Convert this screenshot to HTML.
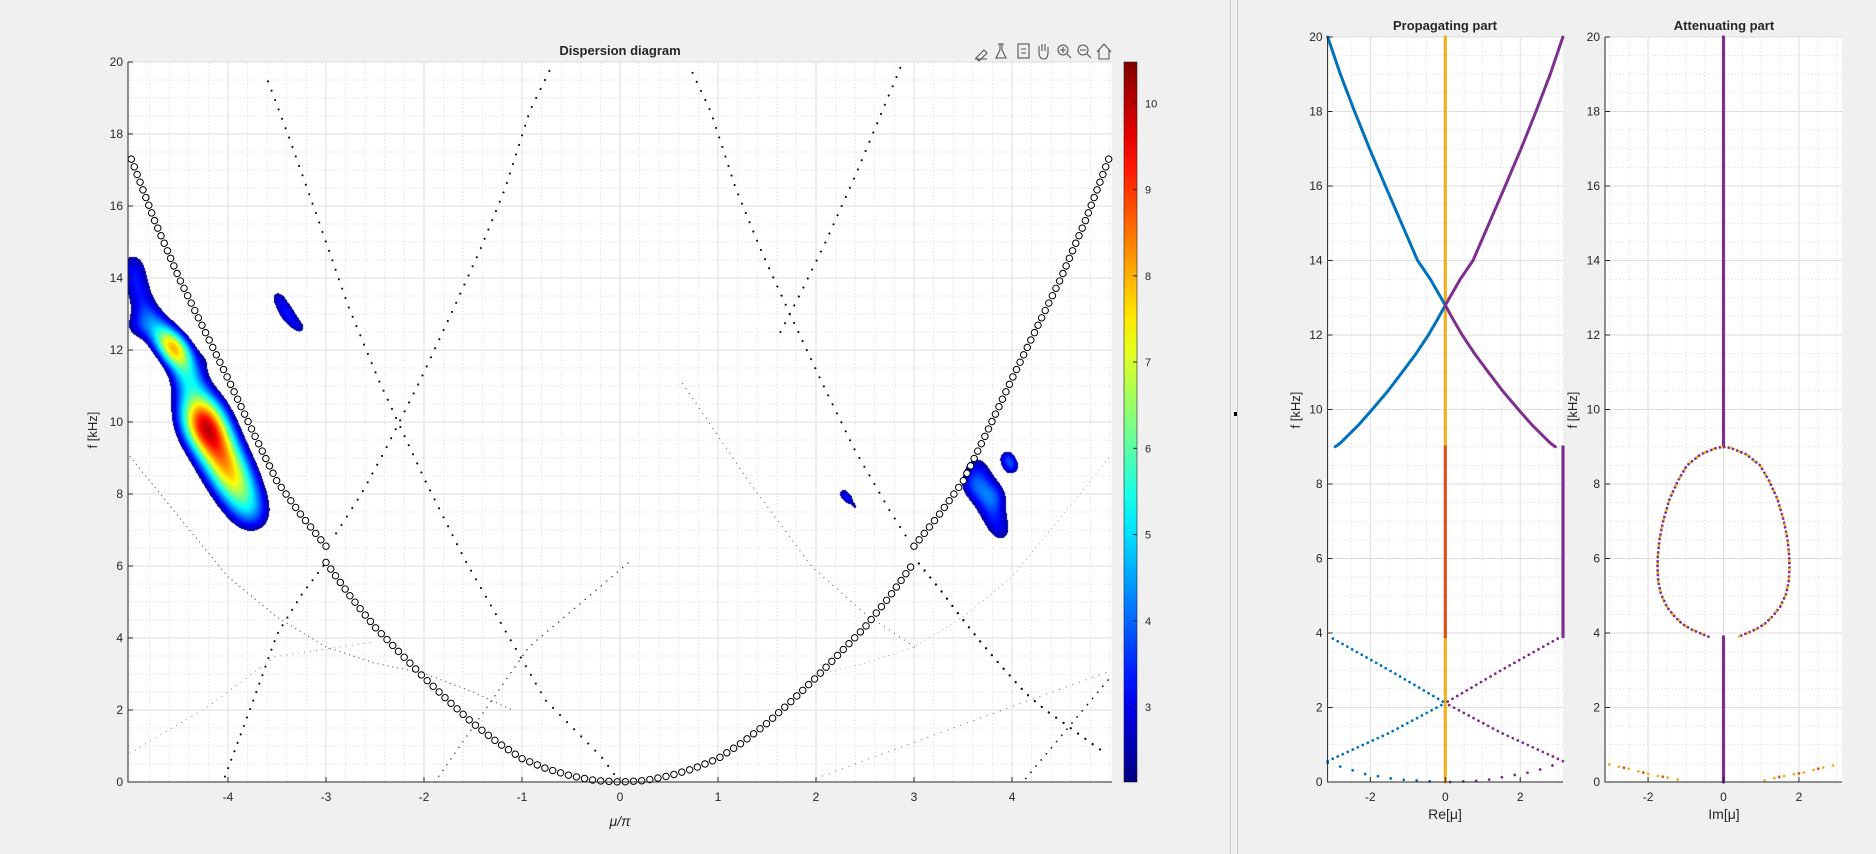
<!DOCTYPE html>
<html><head><meta charset="utf-8"><title>Dispersion diagram</title>
<style>
html,body{margin:0;padding:0;background:#f0f0f0;}
#wrap{position:relative;width:1876px;height:854px;overflow:hidden;font-family:"Liberation Sans",Arial,sans-serif;}
svg,canvas{position:absolute;left:0;top:0;}
text{font-family:"Liberation Sans",Arial,sans-serif;fill:#262626;}
</style></head>
<body>
<div id="wrap">
<svg id="base" width="1876" height="854"></svg>
<canvas id="heat" width="984" height="720" style="left:128px;top:62px;"></canvas>
<svg id="top" width="1876" height="854"></svg>
</div>
<script>
// ---------- main dispersion diagram data ----------
const fundMu=[0,0.25,0.5,0.75,1,1.25,1.5,1.75,2,2.25,2.5,2.75,3];
const fundF=[0,0.04,0.17,0.37,0.65,1.1,1.63,2.25,2.9,3.6,4.3,5.15,6.1];
const upperMu=[3,3.25,3.5,3.75,4,4.25,4.5,4.75,5];
const upperF=[6.55,7.4,8.35,9.75,11.2,12.6,14.0,15.6,17.4];
const steepLeftMu=[0,-0.19,-0.76,-1.17,-1.58,-1.99,-2.46,-2.77,-3.09,-3.39,-3.61];
const steepLeftF=[0,0.7,2.27,4.2,6.16,8.38,11.15,13.2,15.7,18.0,19.6];
const innerLeftMu=[-0.72,-0.92,-1.17,-1.43,-1.69,-2.04,-2.4,-2.64,-2.91];
const innerLeftF=[19.75,18.64,16.5,14.76,13.2,11.15,9.2,8.0,6.85];
const innerRightMu=[0.74,0.93,1.18,1.44,1.7,2.06,2.4,2.76,2.96];
const innerRightF=[19.7,18.6,16.5,14.76,13.2,11.1,9.2,7.5,6.65];
const outerRightMu=[2.86,2.41,2.09,1.84,1.6];
const outerRightF=[19.84,16.9,14.95,13.56,12.3];
const lowRightMu=[3.05,3.27,3.48,3.68,3.88,4.14,4.34,4.53,4.95];
const lowRightF=[6.07,5.33,4.57,3.89,3.25,2.46,2.0,1.63,0.8];
const midRightMu=[0.64,1.3,1.96,2.5,3.01];
const midRightF=[11.07,8.4,5.97,4.68,3.74];
const lowLeftMu=[-4.03,-3.75,-3.5,-3.25,-3.0];
const lowLeftF=[0.15,2.2,4.1,5.2,6.1];
const farLeftMu=[-5,-4.5,-4,-3.5,-3,-2.5,-2,-1.5,-1.1];
const farLeftF=[9.04,7.36,5.7,4.58,3.75,3.3,3.02,2.5,2.0];
const riseAMu=[-1.89,-0.93,0.09];
const riseAF=[0,3.75,6.1];
const riseBMu=[2.0,3.5,5.02];
const riseBF=[0.1,1.6,3.1];
const riseCMu=[4.14,5.0];
const riseCF=[0.1,2.9];
const riseDMu=[-5,-4.2,-3.52,-2.5];
const riseDF=[0.8,2.1,3.48,3.9];
const farRightMu=[2.05,2.5,3.0,3.5,4.0,4.5,5.0];
const farRightF=[3.0,3.3,3.75,4.58,5.7,7.36,9.04];
// heatmap blobs (summed gaussian components): [mu, f, amplitude, sigma(px)]
const blobLeftUpper=[[-4.98,14.5,1.9,13],[-4.95,14.0,1.9,13],[-4.9,13.5,1.9,13],[-4.82,13.0,2.0,13],[-4.72,12.6,2.4,13],
 [-4.62,12.25,4.0,12],[-4.52,11.95,4.1,12],[-4.45,11.6,2.4,13],[-4.4,11.2,2.2,14],[-4.12,11.9,1.8,10],[-4.98,12.6,1.6,12]];
const blobLeftMain=[[-4.35,10.7,2.03,18],[-4.3,10.3,2.66,18],
 [-4.25,10.0,3.22,18],[-4.2,9.7,3.12,18],[-4.13,9.35,2.81,18],[-4.06,9.0,2.66,18],[-4.0,8.65,2.56,18],[-3.93,8.3,2.44,18],
 [-3.86,7.95,2.03,18],[-3.8,7.6,1.56,18],[-3.73,7.3,1.6,16]];
const blobSmallA=[[-3.5,13.5,2.2,8],[-3.43,13.15,2.2,8],[-3.36,12.85,2.2,8],[-3.26,12.6,2.0,7]];
const blobSmallB=[[2.27,8.05,2.3,6],[2.33,7.85,2.3,5],[2.4,7.65,2.0,4]];
const blobRightMain=[[3.62,8.9,1.6,14],[3.66,8.45,1.6,14],[3.72,8.0,1.6,14],[3.78,7.6,1.6,14],[3.84,7.2,1.6,13],[3.9,6.85,1.4,11],[3.55,8.2,1.1,11],[3.85,8.0,1.1,11]];
const blobRightSmall=[[3.95,9.05,2.6,7],[4.0,8.75,2.6,7]];
const cbTicks=[3,4,5,6,7,8,9,10];
const cbMin=2.13, cbMax=10.48;
const mainXTicks=[-4,-3,-2,-1,0,1,2,3,4];
const mainYTicks=[0,2,4,6,8,10,12,14,16,18,20];
// ---------- right panel data ----------
const blueUpX=[-3.14,-2.8,-2.42,-2.02,-1.6,-1.17,-0.74,-0.4,0], blueUpF=[20,19,18,17,16,15,14,13.5,12.8];
const blueMidX=[0,-0.22,-0.45,-0.78,-1.15,-1.53,-1.95,-2.3,-2.6,-2.8,-2.94], blueMidF=[12.8,12.4,12,11.5,11,10.5,10,9.6,9.3,9.1,9.0];
const purpUpX=[3.14,2.8,2.42,2.02,1.6,1.17,0.74,0.4,0], purpUpF=[20,19,18,17,16,15,14,13.5,12.8];
const purpMidX=[0,0.22,0.45,0.78,1.15,1.53,1.95,2.3,2.6,2.8,2.94], purpMidF=[12.8,12.4,12,11.5,11,10.5,10,9.6,9.3,9.1,9.0];
const blueLowAX=[-3.0,-1.49,0], blueLowAF=[3.85,3.0,2.12];
const blueLowBX=[-3.14,-1.49,0], blueLowBF=[0.56,1.32,2.12];
const purpLowAX=[3.0,1.49,0], purpLowAF=[3.85,3.0,2.12];
const purpLowBX=[3.14,1.49,0], purpLowBF=[0.56,1.32,2.12];
const blueFloorX=[-3.14,-2.65,-2.18,-1.84,-1.49,-1.09,-0.16], blueFloorF=[0.51,0.37,0.22,0.16,0.1,0.06,0];
const purpFloorX=[0.13,1.05,1.51,1.86,2.2,2.67,3.14], purpFloorF=[0,0.04,0.13,0.19,0.25,0.37,0.55];
const loopX=[-0.4,-0.86,-1.1,-1.31,-1.5,-1.66,-1.73,-1.75,-1.74,-1.7,-1.6,-1.43,-1.2,-0.97,-0.6,-0.19,0,
             0.19,0.6,0.97,1.2,1.43,1.6,1.7,1.74,1.75,1.73,1.66,1.5,1.31,1.1,0.86,0.4];
const loopF=[3.9,4.1,4.25,4.46,4.7,5.05,5.4,5.78,6.1,6.5,7.0,7.6,8.1,8.5,8.8,8.97,9.0,
             8.97,8.8,8.5,8.1,7.6,7.0,6.5,6.1,5.78,5.4,5.05,4.7,4.46,4.25,4.1,3.9];
const attLeftX=[-3.03,-2.46,-1.89,-1.49,-1.09], attLeftF=[0.47,0.34,0.19,0.12,0.04];
const attRightX=[1.09,1.54,2.11,2.57,3.03], attRightF=[0.04,0.15,0.25,0.37,0.47];
const sideTicksX=[-2,0,2];

const NS="http://www.w3.org/2000/svg";
const base=document.getElementById('base'), topS=document.getElementById('top');
function mk(parent,tag,attrs,txt){const e=document.createElementNS(NS,tag);for(const k in attrs)e.setAttribute(k,attrs[k]);if(txt!==undefined)e.textContent=txt;parent.appendChild(e);return e;}

const M={l:128,r:1112,t:62,b:782,x0:-5.02,x1:5.02};
const P1={l:1327.6,r:1563,t:37,b:782,x0:-Math.PI,x1:Math.PI};
const P2={l:1605,r:1842,t:37,b:782,x0:-Math.PI,x1:Math.PI};
function sx(A,v){return A.l+(v-A.x0)/(A.x1-A.x0)*(A.r-A.l);}
function sy(A,f){return A.b-f/20*(A.b-A.t);}

let r=mk(base,'rect',{x:0,y:0,width:1876,height:854,fill:'#f0f0f0'});

let d1=mk(base,'line',{x1:1230.5,y1:0,x2:1230.5,y2:854,stroke:'#c8c8c8'});

let d2=mk(base,'line',{x1:1237.5,y1:0,x2:1237.5,y2:854,stroke:'#c8c8c8'});


function grid(A,name,xMajor,xMinorStep,yMinorStep){
  const g=mk(base,'g',{});
  
  const bg=mk(g,'rect',{x:A.l,y:A.t,width:A.r-A.l,height:A.b-A.t,fill:'#fff'});
  
  const sx0=Math.ceil(A.x0/xMinorStep);
  for(let i=sx0;i*xMinorStep<=A.x1;i++){const v=i*xMinorStep;const X=sx(A,v);
    const isMaj=xMajor.some(m=>Math.abs(m-v)<1e-6);
    mk(g,'line',{x1:X,y1:A.t,x2:X,y2:A.b,stroke:isMaj?'#dedede':'#e3e3e3','stroke-dasharray':isMaj?'':'1.5 2'});}
  for(let i=0;i*yMinorStep<=20+1e-6;i++){const v=i*yMinorStep;const Y=sy(A,v);
    const isMaj=Math.abs(v/2-Math.round(v/2))<1e-6;
    mk(g,'line',{x1:A.l,y1:Y,x2:A.r,y2:Y,stroke:isMaj?'#dedede':'#e3e3e3','stroke-dasharray':isMaj?'':'1.5 2'});}
}
grid(M,'main',mainXTicks,0.2,0.5);
grid(P1,'propagating',sideTicksX,0.5,0.5);
grid(P2,'attenuating',sideTicksX,0.5,0.5);

function jet(t){t=Math.max(0,Math.min(1,t));
  const r=Math.max(0,Math.min(1,1.5-Math.abs(4*t-3))),g=Math.max(0,Math.min(1,1.5-Math.abs(4*t-2))),b=Math.max(0,Math.min(1,1.5-Math.abs(4*t-1)));
  return [r*255,g*255,b*255];}
(function(){
  const cv=document.getElementById('heat'),ctx=cv.getContext('2d');
  const W=984,H=720,field=new Float32Array(W*H);
  const all=[].concat(blobLeftUpper,blobLeftMain,blobSmallA,blobSmallB,blobRightMain,blobRightSmall);
  all.forEach(c=>{const cx=sx(M,c[0])-M.l,cy=sy(M,c[1])-M.t,s=c[3],a=c[2];
    const R=Math.ceil(s*3.5);
    for(let y=Math.max(0,Math.floor(cy-R));y<Math.min(H,cy+R);y++)for(let x=Math.max(0,Math.floor(cx-R));x<Math.min(W,cx+R);x++){
      const d2=(x-cx)*(x-cx)+(y-cy)*(y-cy);field[y*W+x]+=a*Math.exp(-d2/(2*s*s));}
  });
  const img=ctx.createImageData(W,H);
  for(let i=0;i<W*H;i++){const v=field[i];if(v<cbMin+0.15)continue;
    const c=jet((v-cbMin)/(cbMax-cbMin));img.data[4*i]=c[0];img.data[4*i+1]=c[1];img.data[4*i+2]=c[2];img.data[4*i+3]=255;}
  ctx.putImageData(img,0,0);
})();

function pathD(A,xs,fs){return xs.map((x,i)=>(i?'L':'M')+sx(A,x).toFixed(1)+','+sy(A,fs[i]).toFixed(1)).join(' ');}
function dotted(A,xs,fs,name,color,w,gap,off){
  const p=mk(topS,'path',{d:pathD(A,xs,fs),fill:'none',stroke:color,'stroke-width':w,'stroke-linecap':'round','stroke-dasharray':'0.01 '+gap,'stroke-dashoffset':off||0});
  return p;}
function solid(A,xs,fs,name,color,w){
  const p=mk(topS,'path',{d:pathD(A,xs,fs),fill:'none',stroke:color,'stroke-width':w,'stroke-linecap':'round','stroke-linejoin':'round'});
  return p;}
function rings(xs,fs,name){
  dotted(M,xs,fs,name,'#000',7.4,8.2);
  dotted(M,xs,fs,name+'-fill','#fff',5.4,8.2);
}
dotted(M,farLeftMu,farLeftF,'mode-curve-far-left','#666',1.3,5);
dotted(M,farRightMu,farRightF,'mode-curve-far-right','#999',1.0,5);
dotted(M,riseAMu,riseAF,'mode-curve-rise-a','#444',1.5,7);
dotted(M,riseBMu,riseBF,'mode-curve-rise-b','#777',1.2,7);
dotted(M,riseCMu,riseCF,'mode-curve-rise-c','#222',1.8,8);
dotted(M,riseDMu,riseDF,'mode-curve-rise-d','#888',1.1,6);
dotted(M,midRightMu,midRightF,'mode-curve-mid-right','#666',1.2,6);
dotted(M,steepLeftMu,steepLeftF,'mode-curve-steep-left','#111',2.1,10);
dotted(M,innerLeftMu,innerLeftF,'mode-curve-inner-left','#111',2.1,10);
dotted(M,innerRightMu,innerRightF,'mode-curve-inner-right','#111',2.1,10);
dotted(M,outerRightMu,outerRightF,'mode-curve-outer-right','#111',2.1,10);
dotted(M,lowRightMu,lowRightF,'mode-curve-low-right','#111',2.3,9);
dotted(M,lowLeftMu,lowLeftF,'mode-curve-low-left','#111',2.1,9);
const fundAllMu=fundMu.slice().reverse().map(v=>-v).concat(fundMu.slice(1));
const fundAllF=fundF.slice().reverse().concat(fundF.slice(1));
rings(fundAllMu,fundAllF,'fundamental-branch-circles');
rings(upperMu,upperF,'upper-branch-right-circles');
rings(upperMu.map(v=>-v),upperF,'upper-branch-left-circles');

solid(P1,[0,0],[0,3.9],'re-zero-line-low','#EDB120',3.2);
solid(P1,[0,0],[9,20],'re-zero-line-high','#EDB120',3.2);
solid(P1,[0,0],[3.9,9],'re-zero-line-mid','#D95319',3.2);
solid(P1,[Math.PI,Math.PI],[3.9,9],'re-pi-line','#7E2F8E',3.2);
solid(P1,blueUpX,blueUpF,'blue-branch-upper','#0072BD',3);
solid(P1,blueMidX,blueMidF,'blue-branch-middle','#0072BD',3);
solid(P1,purpUpX,purpUpF,'purple-branch-upper','#7E2F8E',3);
solid(P1,purpMidX,purpMidF,'purple-branch-middle','#7E2F8E',3);
dotted(P1,blueLowAX,blueLowAF,'blue-branch-low-a','#0072BD',2.8,5.5);
dotted(P1,blueLowBX,blueLowBF,'blue-branch-low-b','#0072BD',2.8,5.5);
dotted(P1,purpLowAX,purpLowAF,'purple-branch-low-a','#7E2F8E',2.8,5.5);
dotted(P1,purpLowBX,purpLowBF,'purple-branch-low-b','#7E2F8E',2.8,5.5);
dotted(P1,blueFloorX,blueFloorF,'blue-floor-points','#0072BD',2.8,13);
dotted(P1,purpFloorX,purpFloorF,'purple-floor-points','#7E2F8E',2.8,13);
solid(P2,[0,0],[9,20],'im-zero-line-high','#7E2F8E',3.2);
solid(P2,[0,0],[0,3.9],'im-zero-line-low','#7E2F8E',3.2);
dotted(P2,loopX,loopF,'im-loop-purple','#7E2F8E',2.8,4.5);
dotted(P2,loopX,loopF,'im-loop-yellow','#EDB120',2.8,9,2.2);
dotted(P2,attLeftX,attLeftF,'im-floor-left','#EDB120',2.8,10);
dotted(P2,attLeftX,attLeftF,'im-floor-left-red','#D95319',2.8,20,5);
dotted(P2,attRightX,attRightF,'im-floor-right','#EDB120',2.8,10);
dotted(P2,attRightX,attRightF,'im-floor-right-red','#D95319',2.8,20,5);

function axes(A,name,xt,xfmt){
  const g=mk(topS,'g',{});
  mk(g,'line',{x1:A.l,y1:A.t,x2:A.l,y2:A.b+0.5,stroke:'#262626','stroke-width':1});
  mk(g,'line',{x1:A.l,y1:A.b,x2:A.r,y2:A.b,stroke:'#262626','stroke-width':1});
  xt.forEach(v=>{const X=sx(A,v);mk(g,'line',{x1:X,y1:A.b,x2:X,y2:A.b-5,stroke:'#262626'});
    const t=mk(g,'text',{x:X,y:A.b+19,'font-size':12,'text-anchor':'middle'},xfmt(v));
    });
  mainYTicks.forEach(v=>{const Y=sy(A,v);mk(g,'line',{x1:A.l,y1:Y,x2:A.l+5,y2:Y,stroke:'#262626'});
    const t=mk(g,'text',{x:A.l-5,y:Y+4,'font-size':12,'text-anchor':'end'},String(v));
    });
}
const fmt=v=>v<0?'-'+Math.abs(v):String(v);
axes(M,'main',mainXTicks,fmt);
axes(P1,'propagating',sideTicksX,fmt);
axes(P2,'attenuating',sideTicksX,fmt);

(function(){
  const g=mk(topS,'g',{});
  const defs=mk(g,'defs',{});const lg=mk(defs,'linearGradient',{id:'jetg',x1:0,y1:1,x2:0,y2:0});
  for(let i=0;i<=20;i++){const c=jet(i/20);mk(lg,'stop',{offset:(i/20),'stop-color':'rgb('+c.map(Math.round).join(',')+')'});}
  mk(g,'rect',{x:1124,y:62,width:13,height:720,fill:'url(#jetg)',stroke:'#262626','stroke-width':0.6});
  cbTicks.forEach(v=>{const Y=782-(v-cbMin)/(cbMax-cbMin)*720;
    mk(g,'line',{x1:1133,y1:Y,x2:1137,y2:Y,stroke:'#262626'});
    const t=mk(g,'text',{x:1145,y:Y+4,'font-size':11},String(v));
    });
})();

function label(x,y,txt,name,extra){const a=Object.assign({x:x,y:y,'font-size':12,'text-anchor':'middle'},extra||{});
  const t=mk(topS,'text',a,txt);return t;}
label(620,55,'Dispersion diagram','main-title',{'font-weight':'bold','font-size':13});
label(97,430,'f [kHz]','main-y-axis-title',{transform:'rotate(-90 97 430)','font-size':13});
label(620,826,'μ/π','main-x-axis-title',{'font-style':'italic','font-family':'Liberation Serif','font-size':14});
label(1445,30,'Propagating part','propagating-title',{'font-weight':'bold','font-size':13});
label(1724,30,'Attenuating part','attenuating-title',{'font-weight':'bold','font-size':13});
label(1300,410,'f [kHz]','propagating-y-axis-title',{transform:'rotate(-90 1300 410)','font-size':13});
label(1577,410,'f [kHz]','attenuating-y-axis-title',{transform:'rotate(-90 1577 410)','font-size':13});
label(1445,819,'Re[μ]','propagating-x-axis-title',{'font-size':14});
label(1724,819,'Im[μ]','attenuating-x-axis-title',{'font-size':14});

(function(){
  const g=mk(topS,'g',{stroke:'#555',fill:'none','stroke-width':1.1});
  
  const names=['export-button','brush-button','datatip-button','pan-button','zoom-in-button','zoom-out-button','home-button'];
  const xs=[982,1003,1024,1044,1064,1084,1104];
  xs.forEach((x,i)=>{const b=mk(g,'g',{});
    if(i===0){mk(b,'path',{d:`M${x-6},58 l8,-8 l3,3 l-8,8 z M${x-7},59 h12`});}
    else if(i===1){mk(b,'path',{d:`M${x-5},44 h6 M${x-3},44 v6 l-4,8 h10 l-4,-8 v-6`});}
    else if(i===2){mk(b,'rect',{x:x-6,y:44,width:11,height:14});mk(b,'path',{d:`M${x-3},49 h5 M${x-3},53 h5`});}
    else if(i===3){mk(b,'path',{d:`M${x-5},52 v-6 M${x-2},51 v-7 M${x+1},51 v-7 M${x+4},52 v-5 M${x-5},52 q0,7 5,7 q4,0 4,-7`});}
    else if(i===4||i===5){mk(b,'circle',{cx:x-1,cy:50,r:5});mk(b,'path',{d:`M${x+3},54 l4,4 M${x-4},50 h6`+(i===4?` M${x-1},47 v6`:'')});}
    else {mk(b,'path',{d:`M${x-7},52 l7,-8 l7,8 M${x-5},50 v9 h10 v-9`});}
  });
  const m=mk(topS,'rect',{x:1234,y:412,width:3,height:4,fill:'#000'});
  
})();
</script>
</body></html>
